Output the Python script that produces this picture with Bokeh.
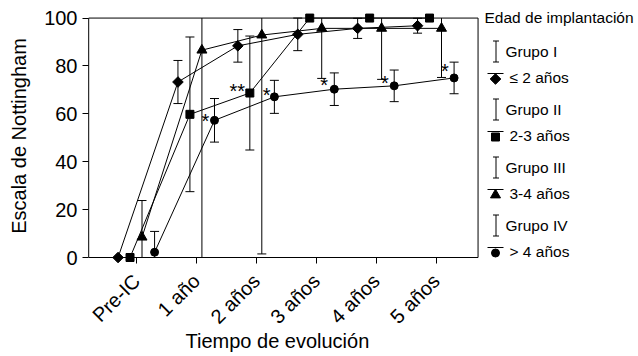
import math
from bokeh.plotting import figure
from bokeh.models import Range1d, FixedTicker, Title
from bokeh.core.properties import value
from bokeh.embed import file_html
from bokeh.resources import INLINE

# ---------------- data ----------------
categories = ["Pre-IC", "1 año", "2 años", "3 años", "4 años", "5 años"]
group_names = ["Grupo I", "Grupo II", "Grupo III", "Grupo IV"]
age_labels = ["≤ 2 años", "2-3 años", "3-4 años", "> 4 años"]
legend_title = "Edad de implantación"
x_title = "Tiempo de evolución"
y_title = "Escala de Nottingham"
y_ticks = [0, 20, 40, 60, 80, 100]

g1_mean = [0, 73.3, 88.4, 93.2, 95.7, 96.8]
g1_err = [0, 9.0, 6.8, 6.8, 4.2, 3.1]
g2_mean = [0, 59.8, 68.7, 100, 100, 100]
g2_err = [0, 32.3, 23.8, 0, 0, 0]
g3_mean = [8.5, 86.6, 92.9, 95.7, 95.7, 95.7]
g3_err = [15.3, 90.0, 91.4, 20.9, 21.3, 20.5]
g4_mean = [2.2, 57.3, 67.1, 70.3, 71.7, 75.0]
g4_err = [8.7, 9.1, 6.9, 6.8, 6.6, 6.6]

sig_x = [1.15, 1.68, 2.17, 3.13, 4.145, 5.145]
sig_y = [59, 71.5, 70, 74, 75, 80]
sig_text = ["*", "**", "*", "*", "*", "*"]

# ---------------- style / layout ----------------
FONT = "Liberation Sans"
offsets = [-0.31, -0.11, 0.09, 0.30]
markers = [("square", 7.5, math.pi / 4), ("square", 8, 0.0), ("triangle", 10, 0.0), ("circle", 8, 0.0)]

PXX = 59.9          # px per category step
BL, BT = 87, 8      # borders left / top
FW, FH = 549, 255   # frame size
X0 = -0.82
X1 = X0 + FW / PXX
Y0, Y1 = -2.5, 104
PXY = FH / (Y1 - Y0)
cap_half = 4.5 / PXX


def dx(px):  # picture pixel -> data x
    return X0 + (px - BL) / PXX


def dy(py):  # picture pixel -> data y
    return Y1 - (py - BT) / PXY


means = [g1_mean, g2_mean, g3_mean, g4_mean]
errs = [g1_err, g2_err, g3_err, g4_err]

p = figure(frame_width=FW, frame_height=FH, title=None,
           x_range=Range1d(X0, X1), y_range=Range1d(Y0, Y1),
           output_backend="svg", toolbar_location=None,
           min_border_left=BL, min_border_top=BT, min_border_right=0, min_border_bottom=92)
p.outline_line_color = None
p.grid.visible = False
p.background_fill_color = "white"
p.border_fill_color = "white"

# axes box
p.quad(left=-0.8, right=5.7, bottom=y_ticks[0], top=y_ticks[-1],
       fill_color=None, line_color="black", line_width=1)

ymin, ymax = y_ticks[0], y_ticks[-1]
for g in range(4):
    xs = [i + offsets[g] for i in range(len(categories))]
    m = means[g]
    e = errs[g]
    lo = [max(a - b, ymin) for a, b in zip(m, e)]
    hi = [min(a + b, ymax) for a, b in zip(m, e)]
    bx = [x for x, b in zip(xs, e) if b > 0]
    blo = [l for l, b in zip(lo, e) if b > 0]
    bhi = [h for h, b in zip(hi, e) if b > 0]
    p.segment(x0=bx, y0=blo, x1=bx, y1=bhi, line_color="black", line_width=1)
    cx, cy = [], []
    for x, a, b in zip(xs, m, e):
        if b <= 0:
            continue
        if a - b >= ymin:
            cx.append(x); cy.append(a - b)
        if a + b <= ymax:
            cx.append(x); cy.append(a + b)
    p.segment(x0=[x - cap_half for x in cx], y0=cy, x1=[x + cap_half for x in cx], y1=cy,
              line_color="black", line_width=1)
    p.line(xs, m, line_color="black", line_width=1)
    mk, sz, ang = markers[g]
    p.scatter(xs, m, marker=mk, size=sz, angle=ang, fill_color="black", line_color="black")

p.text(x=sig_x, y=sig_y, text=sig_text, text_font=value(FONT), text_font_size="20px",
       text_align="center", text_baseline="middle", y_offset=5, text_color="black")

# x axis
p.xaxis.ticker = FixedTicker(ticks=list(range(len(categories))))
p.xaxis.major_label_overrides = {i: c for i, c in enumerate(categories)}
p.xaxis.major_label_orientation = math.pi / 4
p.xaxis.axis_line_color = None
p.xaxis.major_tick_in = 6
p.xaxis.major_tick_out = 0
p.xaxis.major_label_standoff = 14
p.xaxis.minor_tick_line_color = None

# x title centred under the axes box (not under the wider frame)
p.add_layout(Title(text=x_title, align="left", offset=98, standoff=-22,
                   text_font=FONT, text_font_size="20px", text_font_style="normal",
                   text_color="black"), "below")

# y axis
p.yaxis.ticker = FixedTicker(ticks=y_ticks)
p.yaxis.axis_line_color = None
p.yaxis.major_tick_out = 5
p.yaxis.major_tick_in = 1
p.yaxis.minor_tick_line_color = None
p.yaxis.axis_label = y_title
p.yaxis.axis_label_standoff = 11

for ax in (p.xaxis, p.yaxis):
    ax.major_label_text_font = FONT
    ax.major_label_text_font_size = "20px"
    ax.major_label_text_color = "black"
    ax.axis_label_text_font = FONT
    ax.axis_label_text_font_size = "20px"
    ax.axis_label_text_font_style = "normal"
    ax.axis_label_text_color = "black"
    ax.major_tick_line_color = "black"

# ---------------- legend (drawn in the empty right part of the frame) ----------------
leg_font = "15.5px"
gy = [51 + 58 * g for g in range(4)]
ay = [77 + 58 * g for g in range(4)]
p.text(x=[dx(484)], y=[dy(17)], text=[legend_title], text_font=value(FONT),
       text_font_size=leg_font, text_baseline="middle", text_color="black")
p.text(x=[dx(505)] * 4, y=[dy(v) for v in gy], text=group_names, text_font=value(FONT),
       text_font_size=leg_font, text_baseline="middle", text_color="black")
p.text(x=[dx(509)] * 4, y=[dy(v) for v in ay], text=age_labels, text_font=value(FONT),
       text_font_size=leg_font, text_baseline="middle", text_color="black")
# error-bar icons
ex = dx(495.5)
p.segment(x0=[ex] * 4, y0=[dy(v - 10.5) for v in gy], x1=[ex] * 4, y1=[dy(v + 10.5) for v in gy],
          line_color="black", line_width=1)
cap_y = [dy(v - 10.5) for v in gy] + [dy(v + 10.5) for v in gy]
p.segment(x0=[dx(492.5)] * 8, y0=cap_y, x1=[dx(498.5)] * 8, y1=cap_y,
          line_color="black", line_width=1)
# tee + marker icons
p.segment(x0=[dx(487)] * 4, y0=[dy(v - 4) for v in ay], x1=[dx(503)] * 4, y1=[dy(v - 4) for v in ay],
          line_color="black", line_width=1)
for g in range(4):
    mk, sz, ang = markers[g]
    p.scatter([dx(495)], [dy(ay[g] + 1.5)], marker=mk, size=sz, angle=ang,
              fill_color="black", line_color="black")

open("out.html", "w").write(file_html(p, INLINE))
